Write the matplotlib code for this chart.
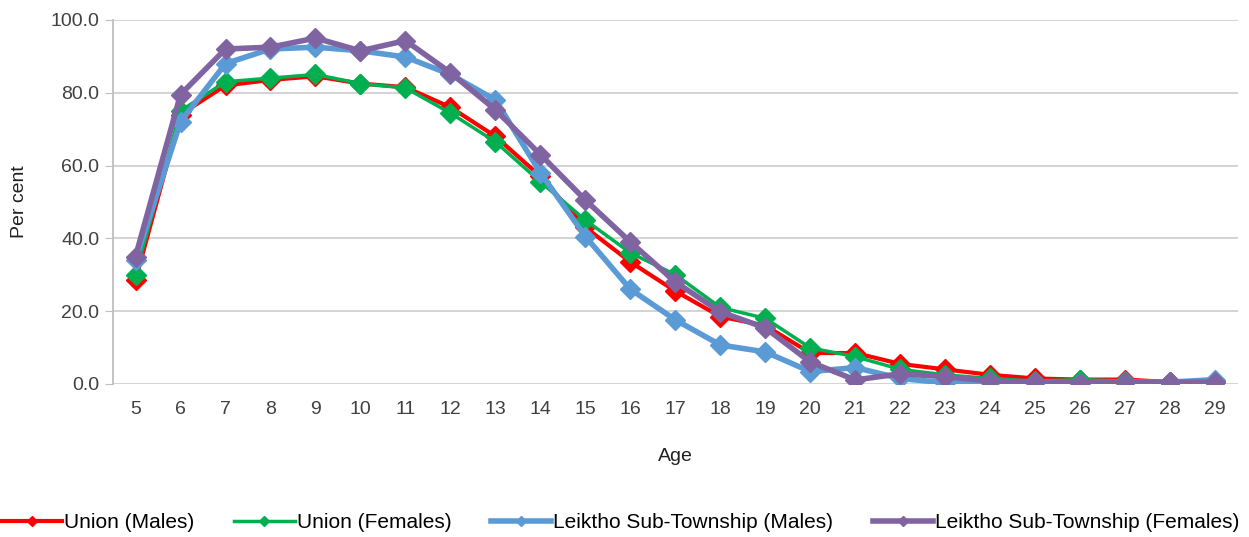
import matplotlib.pyplot as plt
from matplotlib.lines import Line2D

plt.rcParams['font.family'] = ['Liberation Sans', 'DejaVu Sans']

ages = list(range(5, 30))
union_males = [28.5, 74, 82, 83.5, 84.5, 82.5, 81.5, 76, 68, 57, 43, 33.5, 25.5, 18.5, 16,
               8.5, 8.5, 5.5, 4, 2.5, 1.5, 1.2, 1.2, 0.5, 0.5]
union_females = [30, 75, 83, 84, 85, 82.5, 81.3, 74.4, 66.5, 55.5, 45, 36, 30, 21, 18,
                 9.9, 7.5, 4, 2.5, 1.5, 0.8, 1.2, 0.8, 0.5, 0.5]
leiktho_males = [34, 72, 88, 92, 92.5, 91.5, 89.8, 85, 78, 58, 40.5, 26, 17.6, 10.7, 8.8,
                 3.4, 4.5, 1.5, 0.3, 0.5, 0.5, 0.3, 0.5, 0.5, 1.2]
leiktho_females = [35, 79.5, 92, 92.5, 95, 91.5, 94.3, 85.5, 75.3, 63, 50.5, 39, 28, 19.8, 15.4,
                   6, 1.1, 2.8, 2, 0.8, 0.5, 0.3, 0.5, 0.5, 0.5]

series = [
    ('Union (Males)', union_males, '#FF0000', 3.0),
    ('Union (Females)', union_females, '#00B050', 2.5),
    ('Leiktho Sub-Township (Males)', leiktho_males, '#5B9BD5', 4.0),
    ('Leiktho Sub-Township (Females)', leiktho_females, '#8064A2', 4.0),
]

fig = plt.figure(figsize=(12.49, 5.37), dpi=100)
ax = fig.add_axes([0.0905, 0.285, 0.9005, 0.678])

pos = list(range(len(ages)))
for name, vals, col, lw in series:
    ax.plot(pos, vals, color=col, lw=lw, marker='D', ms=10.5, mec=col, mfc=col,
            solid_joinstyle='round')

ax.set_xlim(-0.5, len(ages) - 0.5)
ax.set_ylim(0, 100)
ax.set_yticks([0, 20, 40, 60, 80, 100])
ax.set_yticklabels([f'{v:.1f}' for v in [0, 20, 40, 60, 80, 100]])
ax.set_xticks(pos)
ax.set_xticklabels([str(a) for a in ages])
ax.tick_params(axis='y', length=6, color='#BFBFBF', labelsize=14, labelcolor='#404040', pad=4)
ax.tick_params(axis='x', length=0, labelsize=14, labelcolor='#404040', pad=12)
ax.grid(axis='y', color='#D0D0D0', lw=1.3)
ax.set_axisbelow(True)
for s in ['top', 'right', 'bottom']:
    ax.spines[s].set_visible(False)
ax.spines['left'].set_color('#BFBFBF')
ax.spines['left'].set_linewidth(1.3)

ax.set_xlabel('Age', fontsize=14, color='#202020', labelpad=22)
ax.set_ylabel('Per cent', fontsize=14, color='#202020', labelpad=16)

handles = [Line2D([0], [0], color=c, lw=lw, marker='D', ms=5) for _, _, c, lw in series]
fig.legend(handles, [s[0] for s in series], loc='center', bbox_to_anchor=(0.497, 0.027),
           ncol=4, frameon=False, fontsize=15, handlelength=2.9, handletextpad=0.1,
           columnspacing=1.9, borderpad=0)

fig.savefig('out.png', dpi=100)
